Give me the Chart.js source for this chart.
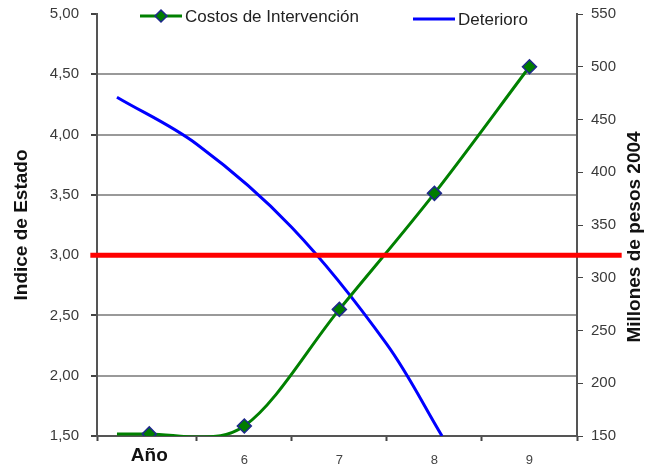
<!DOCTYPE html>
<html>
<head>
<meta charset="utf-8">
<script src="https://cdn.jsdelivr.net/npm/chart.js@4.4.0/dist/chart.umd.min.js"></script>
<style>
  html, body { margin: 0; padding: 0; background: #fff; }
  #wrap { width: 647px; height: 466px; }
</style>
</head>
<body>
<div id="wrap"><canvas id="estado"></canvas></div>
<script>
const categories = ['Año', '6', '7', '8', '9'];

// Costos de Intervención (millones de pesos 2004), x = category index
const costX = [-0.34, 0, 0.5, 1, 2, 3, 4];
const costValues = [152, 152, 149, 159.5, 270, 380, 500];
const costMarkers = [false, true, false, true, true, true, true];

// Deterioro (indice de estado)
const detX = [-0.34, 0.5, 1.5, 2.5, 3.08];
const detValues = [4.31, 3.92, 3.23, 2.26, 1.5];

// umbral
const thresholdX = [-0.62, 4.97];
const thresholdValue = 3.0;

const leftTicks = [1.5, 2, 2.5, 3, 3.5, 4, 4.5, 5];
const rightTicks = [150, 200, 250, 300, 350, 400, 450, 500, 550];
const categoryEdges = [-0.55, 0.5, 1.5, 2.5, 3.5, 4.5];

const leftTitle = 'Indice de Estado';
const rightTitle = 'Millones de pesos 2004';

const FONT = '"Liberation Sans", Arial, sans-serif';
const GREEN = 'rgb(0,128,0)';
const BLUE = 'rgb(0,0,255)';
const RED = 'rgb(255,0,0)';

const fmt = v => v.toFixed(2).replace('.', ',');
const tickVal = ctx => (ctx && ctx.tick ? ctx.tick.value : null);

// fixed axis sizes so the plot sits where the original does
const sideFit = w => s => {
  s.width = w;
  s.paddingTop = 0;
  s.paddingBottom = 0;
};

// legend + right axis title (rotated the other way than chart.js does)
const extras = {
  id: 'extras',
  afterDraw(chart) {
    const ctx = chart.ctx;
    const ds = chart.data.datasets;
    ctx.save();
    ctx.font = '17px ' + FONT;
    ctx.textBaseline = 'middle';
    ctx.textAlign = 'left';
    const items = [
      { d: ds[0], x: 140, y: 16, marker: true },
      { d: ds[1], x: 413, y: 19, marker: false }
    ];
    items.forEach(it => {
      ctx.strokeStyle = it.d.borderColor;
      ctx.lineWidth = 3;
      ctx.beginPath();
      ctx.moveTo(it.x, it.y);
      ctx.lineTo(it.x + 42, it.y);
      ctx.stroke();
      if (it.marker) {
        const cx = it.x + 21, r = 6;
        ctx.beginPath();
        ctx.moveTo(cx, it.y - r);
        ctx.lineTo(cx + r, it.y);
        ctx.lineTo(cx, it.y + r);
        ctx.lineTo(cx - r, it.y);
        ctx.closePath();
        ctx.fillStyle = it.d.pointBackgroundColor;
        ctx.fill();
        ctx.lineWidth = 1.5;
        ctx.strokeStyle = it.d.pointBorderColor;
        ctx.stroke();
      }
      ctx.fillStyle = '#222';
      ctx.fillText(it.d.label, it.x + 45, it.y + 1);
    });

    ctx.translate(635, 237);
    ctx.rotate(-Math.PI / 2);
    ctx.textAlign = 'center';
    ctx.font = 'bold 19px ' + FONT;
    ctx.fillStyle = '#111';
    ctx.fillText(rightTitle, 0, 0);
    ctx.restore();
  }
};

new Chart('estado', {
  type: 'line',
  data: {
    datasets: [
      {
        label: 'Costos de Intervención',
        data: costX.map((x, i) => ({ x, y: costValues[i] })),
        yAxisID: 'y1',
        borderColor: GREEN,
        borderWidth: 3,
        cubicInterpolationMode: 'monotone',
        pointStyle: 'rectRot',
        pointRadius: costMarkers.map(m => (m ? 7 : 0)),
        pointBackgroundColor: 'rgb(0,125,0)',
        pointBorderColor: 'rgb(30,40,140)',
        pointBorderWidth: 1.5,
        order: 1
      },
      {
        label: 'Deterioro',
        data: detX.map((x, i) => ({ x, y: detValues[i] })),
        yAxisID: 'y',
        borderColor: BLUE,
        borderWidth: 3,
        tension: 0.35,
        pointRadius: 0,
        order: 2
      },
      {
        label: 'Umbral',
        data: thresholdX.map(x => ({ x, y: thresholdValue })),
        yAxisID: 'y',
        borderColor: RED,
        borderWidth: 5,
        pointRadius: 0,
        clip: false,
        order: 0
      }
    ]
  },
  options: {
    responsive: true,
    maintainAspectRatio: false,
    animation: false,
    layout: { padding: { top: 14, left: 0, right: 0, bottom: 0 } },
    plugins: {
      legend: { display: false },
      tooltip: { enabled: false }
    },
    scales: {
      x: {
        type: 'linear',
        min: -0.55,
        max: 4.5,
        afterBuildTicks: s => {
          const vals = categoryEdges.concat(categories.map((c, i) => i)).sort((a, b) => a - b);
          s.ticks = vals.map(v => ({ value: v }));
        },
        afterFit: s => { s.height = 30; },
        border: { color: '#555', width: 2 },
        grid: {
          drawOnChartArea: false,
          tickLength: 5,
          tickWidth: 2,
          tickColor: ctx => (Number.isInteger(tickVal(ctx)) ? 'rgba(0,0,0,0)' : '#444')
        },
        ticks: {
          autoSkip: false,
          maxRotation: 0,
          padding: 3,
          color: ctx => (tickVal(ctx) === 0 ? '#111' : '#444'),
          font: ctx => (tickVal(ctx) === 0
            ? { family: FONT, size: 19, weight: 'bold', lineHeight: 1.26 }
            : { family: FONT, size: 13, lineHeight: 2.6 }),
          callback: v => (Number.isInteger(v) ? categories[v] : '')
        }
      },
      y: {
        position: 'left',
        min: 1.5,
        max: 5,
        afterBuildTicks: s => { s.ticks = leftTicks.map(v => ({ value: v })); },
        afterFit: sideFit(97),
        border: { color: '#555', width: 2 },
        grid: {
          color: ctx => ([5, 3, 1.5].includes(tickVal(ctx)) ? 'rgba(0,0,0,0)' : '#999'),
          lineWidth: 2,
          tickLength: 6,
          tickColor: '#444'
        },
        ticks: {
          padding: 12,
          color: '#3a3a3a',
          font: { family: FONT, size: 15 },
          callback: v => fmt(v)
        },
        title: {
          display: true,
          text: leftTitle,
          color: '#111',
          font: { family: FONT, size: 19, weight: 'bold' },
          padding: { top: 10, bottom: 0 }
        }
      },
      y1: {
        position: 'right',
        min: 150,
        max: 550,
        afterBuildTicks: s => { s.ticks = rightTicks.map(v => ({ value: v })); },
        afterFit: sideFit(70),
        border: { color: '#555', width: 2 },
        grid: {
          drawOnChartArea: false,
          tickLength: 6,
          tickColor: '#444'
        },
        ticks: {
          padding: 8,
          color: '#3a3a3a',
          font: { family: FONT, size: 15 }
        }
      }
    }
  },
  plugins: [extras]
});
</script>
</body>
</html>
